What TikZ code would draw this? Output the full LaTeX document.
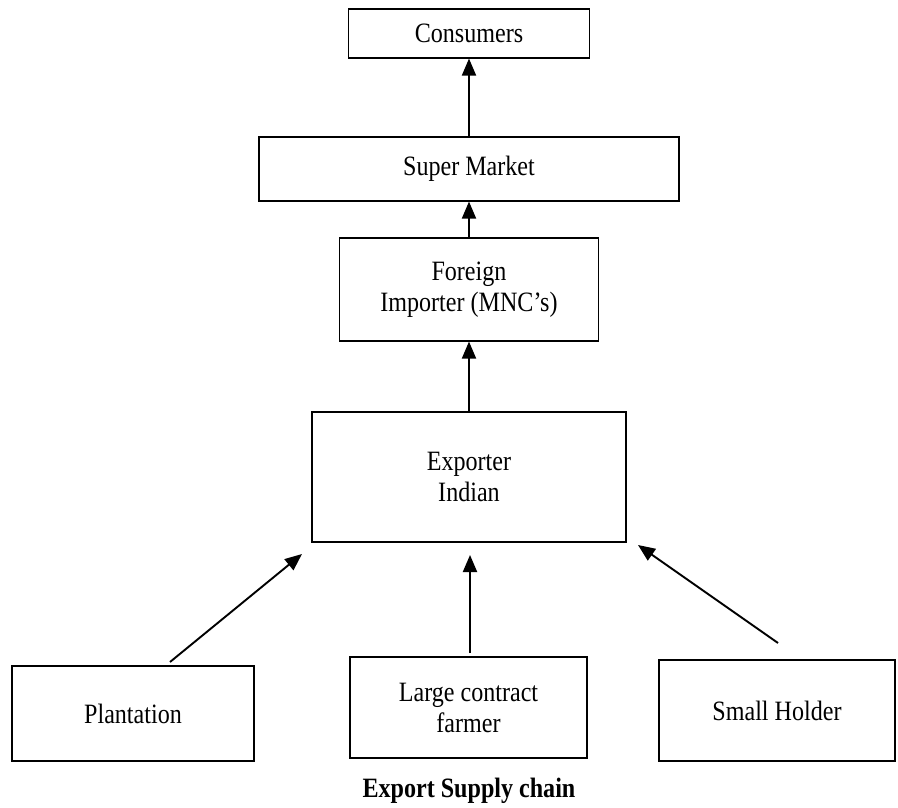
\documentclass[tikz,border=0pt]{standalone}
\usepackage{fontspec}
\setmainfont{Liberation Serif}[FakeStretch=0.86]
\usepackage{tikz}
\usetikzlibrary{positioning,arrows.meta}

\begin{document}
\begin{tikzpicture}[x=1pt, y=-1pt, chainbox/.style={draw=black, line width=1.1pt, fill=white, inner sep=0pt, align=center, font=\fontsize{28}{31}\selectfont}, arrow/.style={-{Triangle[length=17pt,width=14pt]}, draw=black, line width=1.9pt}]
\useasboundingbox (0,0) rectangle (898,808);
% upper chain
\node[chainbox, minimum width=241pt, minimum height=49pt] (cons) at (469,33.5) {Consumers};
\node[chainbox, minimum width=420pt, minimum height=64pt] (smkt) at (469,169) {Super Market};
\node[chainbox, minimum width=259pt, minimum height=103pt] (fimp) at (469,289.5) {Foreign\\Importer (MNC’s)};
\node[chainbox, minimum width=314pt, minimum height=130pt] (expo) at (469,477) {Exporter\\Indian};
\draw[arrow] (smkt) -- (cons);
\draw[arrow] (fimp) -- (smkt);
\draw[arrow] (expo) -- (fimp);
% growers
\node[chainbox, minimum width=242pt, minimum height=95pt] (plant) at (133,713.5) {Plantation};
\node[chainbox, minimum width=237pt, minimum height=101pt] (lcf) at (468.5,707.5) {Large contract\\farmer};
\node[chainbox, minimum width=236pt, minimum height=101pt] (smh) at (777,710.5) {Small Holder};
\coordinate (plant-out) at (170,662);
\coordinate (plant-in) at (302,554);
\coordinate (lcf-out) at (470,653);
\coordinate (lcf-in) at (470,555);
\coordinate (smh-out) at (778,643);
\coordinate (smh-in) at (638,545);
\draw[arrow] (plant-out) -- (plant-in);
\draw[arrow] (lcf-out) -- (lcf-in);
\draw[arrow] (smh-out) -- (smh-in);
\node[font=\fontsize{28}{31}\selectfont\bfseries] (caption) at (469,791) {Export Supply chain};
\end{tikzpicture}
\end{document}
